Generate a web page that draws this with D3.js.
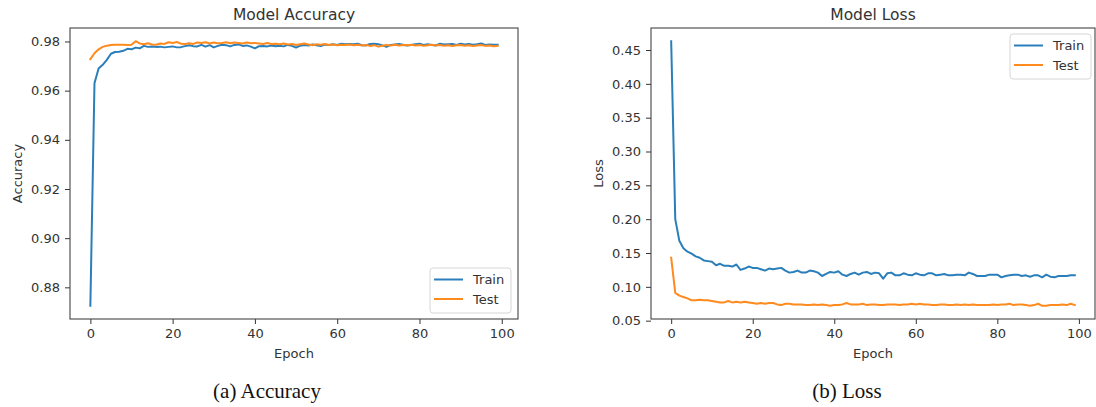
<!DOCTYPE html>
<html>
<head>
<meta charset="utf-8">
<script src="https://cdn.jsdelivr.net/npm/d3@7/dist/d3.min.js"></script>
<style>
  html, body { margin: 0; padding: 0; background: #fff; }
  svg { display: block; }
  .tick text { font-family: "DejaVu Sans", sans-serif; font-size: 13px; fill: #333; }
</style>
</head>
<body>
<svg id="chart" width="1096" height="407"></svg>
<script>
// Training history, epochs 0..99
const epochs = d3.range(100);

const accTrain = [
  0.8725, 0.9630, 0.9690, 0.9705, 0.9725, 0.9750, 0.9757, 0.9758, 0.9762, 0.9770,
  0.9768, 0.9775, 0.9772, 0.9782, 0.9778, 0.9780, 0.9778, 0.9779, 0.9776, 0.9778,
  0.9780, 0.9776, 0.9777, 0.9781, 0.9785, 0.9781, 0.9780, 0.9786, 0.9779, 0.9785,
  0.9776, 0.9782, 0.9787, 0.9785, 0.9780, 0.9786, 0.9788, 0.9782, 0.9784, 0.9779,
  0.9772, 0.9781, 0.9782, 0.9780, 0.9784, 0.9781, 0.9783, 0.9780, 0.9786, 0.9782,
  0.9775, 0.9783, 0.9786, 0.9784, 0.9788, 0.9785, 0.9781, 0.9787, 0.9786, 0.9789,
  0.9786, 0.9791, 0.9789, 0.9790, 0.9789, 0.9791, 0.9785, 0.9784, 0.9790, 0.9791,
  0.9789, 0.9784, 0.9778, 0.9786, 0.9788, 0.9790, 0.9787, 0.9784, 0.9786, 0.9789,
  0.9791, 0.9786, 0.9789, 0.9786, 0.9784, 0.9791, 0.9788, 0.9789, 0.9790, 0.9786,
  0.9791, 0.9788, 0.9790, 0.9787, 0.9789, 0.9792, 0.9786, 0.9788, 0.9787, 0.9787
];

const accTest = [
  0.9728, 0.9752, 0.9768, 0.9778, 0.9783, 0.9786, 0.9787, 0.9787, 0.9787, 0.9786,
  0.9787, 0.9801, 0.9792, 0.9789, 0.9793, 0.9788, 0.9787, 0.9792, 0.9790, 0.9797,
  0.9794, 0.9798, 0.9791, 0.9790, 0.9793, 0.9790, 0.9796, 0.9794, 0.9797, 0.9792,
  0.9796, 0.9793, 0.9794, 0.9797, 0.9793, 0.9796, 0.9794, 0.9792, 0.9796, 0.9793,
  0.9794, 0.9792, 0.9790, 0.9794, 0.9790, 0.9791, 0.9789, 0.9792, 0.9788, 0.9790,
  0.9786, 0.9789, 0.9792, 0.9788, 0.9785, 0.9789, 0.9787, 0.9790, 0.9786, 0.9788,
  0.9785, 0.9787, 0.9786, 0.9788, 0.9785, 0.9787, 0.9784, 0.9786, 0.9782, 0.9785,
  0.9779, 0.9783, 0.9786, 0.9784, 0.9787, 0.9784, 0.9786, 0.9785, 0.9787, 0.9784,
  0.9786, 0.9783, 0.9785, 0.9787, 0.9784, 0.9786, 0.9783, 0.9785, 0.9782, 0.9785,
  0.9786, 0.9783, 0.9785, 0.9782, 0.9784, 0.9786, 0.9782, 0.9784, 0.9781, 0.9782
];

const lossTrain = [
  0.463, 0.200, 0.168, 0.157, 0.152, 0.149, 0.145, 0.143, 0.139, 0.138,
  0.137, 0.132, 0.134, 0.131, 0.131, 0.130, 0.133, 0.125, 0.127, 0.130,
  0.128, 0.128, 0.126, 0.124, 0.127, 0.126, 0.127, 0.128, 0.124, 0.121,
  0.122, 0.124, 0.121, 0.121, 0.124, 0.123, 0.121, 0.116, 0.119, 0.122,
  0.121, 0.123, 0.118, 0.116, 0.119, 0.121, 0.118, 0.121, 0.122, 0.119,
  0.121, 0.120, 0.112, 0.120, 0.121, 0.117, 0.117, 0.120, 0.118, 0.117,
  0.120, 0.118, 0.117, 0.120, 0.120, 0.117, 0.118, 0.119, 0.117, 0.117,
  0.118, 0.118, 0.117, 0.121, 0.119, 0.116, 0.116, 0.116, 0.118, 0.118,
  0.118, 0.114, 0.116, 0.117, 0.118, 0.118, 0.116, 0.117, 0.115, 0.117,
  0.117, 0.114, 0.118, 0.115, 0.114, 0.116, 0.116, 0.116, 0.117, 0.117
];

const lossTest = [
  0.143, 0.091, 0.087, 0.085, 0.083, 0.080, 0.080, 0.081, 0.080, 0.080,
  0.079, 0.078, 0.077, 0.077, 0.079, 0.077, 0.078, 0.077, 0.078, 0.077,
  0.076, 0.075, 0.076, 0.075, 0.076, 0.076, 0.074, 0.073, 0.075, 0.075,
  0.074, 0.074, 0.074, 0.073, 0.073, 0.074, 0.073, 0.074, 0.073, 0.072,
  0.073, 0.073, 0.074, 0.076, 0.074, 0.074, 0.074, 0.075, 0.073, 0.074,
  0.074, 0.073, 0.073, 0.074, 0.074, 0.074, 0.073, 0.074, 0.074, 0.075,
  0.074, 0.075, 0.074, 0.074, 0.073, 0.073, 0.074, 0.074, 0.073, 0.073,
  0.074, 0.073, 0.074, 0.073, 0.074, 0.073, 0.073, 0.073, 0.073, 0.074,
  0.073, 0.074, 0.074, 0.075, 0.073, 0.074, 0.074, 0.073, 0.072, 0.073,
  0.075, 0.072, 0.072, 0.073, 0.073, 0.073, 0.074, 0.073, 0.075, 0.073
];

const xTicks = [0, 20, 40, 60, 80, 100];
const accTicks = [0.88, 0.90, 0.92, 0.94, 0.96, 0.98];
const lossTicks = [0.05, 0.10, 0.15, 0.20, 0.25, 0.30, 0.35, 0.40, 0.45];
const seriesNames = ["Train", "Test"];
const seriesColors = ["#2a7fba", "#ff8a1e"];

const svg = d3.select("#chart");

// pad a data extent by 5% on each side
function padded(values) {
  const [lo, hi] = d3.extent(values);
  const m = (hi - lo) * 0.05;
  return [lo - m, hi + m];
}

function drawPanel(opt) {
  const { left, top, width, height } = opt;
  const g = svg.append("g").attr("transform", `translate(${left},${top})`);

  const x = d3.scaleLinear().domain(padded(epochs)).range([0, width]);
  const y = d3.scaleLinear().domain(padded(opt.series.flat())).range([height, 0]);

  const line = d3.line().x((d, i) => x(epochs[i])).y(d => y(d));

  opt.series.forEach((s, k) => {
    g.append("path")
      .datum(s)
      .attr("fill", "none")
      .attr("stroke", seriesColors[k])
      .attr("stroke-width", 2)
      .attr("stroke-linejoin", "round")
      .attr("stroke-linecap", "square")
      .attr("d", line);
  });

  // axes
  const xAxis = g.append("g").attr("transform", `translate(0,${height})`)
    .call(d3.axisBottom(x).tickValues(xTicks).tickSize(5).tickPadding(5).tickFormat(d3.format("d")));
  const yAxis = g.append("g")
    .call(d3.axisLeft(y).tickValues(opt.yTicks).tickSize(5).tickPadding(5).tickFormat(d3.format(".2f")));
  [xAxis, yAxis].forEach(a => {
    a.select(".domain").remove();
    a.selectAll(".tick line").attr("stroke", "#333").attr("stroke-width", 1);
  });

  // frame
  g.append("rect")
    .attr("x", 0).attr("y", 0).attr("width", width).attr("height", height)
    .attr("fill", "none").attr("stroke", "#444").attr("stroke-width", 1.1);

  // title and labels
  g.append("text")
    .attr("x", width / 2).attr("y", -8)
    .attr("text-anchor", "middle")
    .style("font-family", "DejaVu Sans, sans-serif").style("font-size", "15.5px").style("fill", "#333")
    .text(opt.title);
  g.append("text")
    .attr("x", width / 2).attr("y", height + 39)
    .attr("text-anchor", "middle")
    .style("font-family", "DejaVu Sans, sans-serif").style("font-size", "13px").style("fill", "#333")
    .text("Epoch");
  g.append("text")
    .attr("transform", `translate(${opt.yLabelX},${height / 2}) rotate(-90)`)
    .attr("text-anchor", "middle")
    .style("font-family", "DejaVu Sans, sans-serif").style("font-size", "13px").style("fill", "#333")
    .text(opt.yLabel);

  // legend
  const lg = g.append("g").attr("transform", `translate(${opt.legend[0]},${opt.legend[1]})`);
  lg.append("rect")
    .attr("width", 81).attr("height", 45).attr("rx", 3)
    .attr("fill", "#fff").attr("fill-opacity", 0.8)
    .attr("stroke", "#d6d6d6").attr("stroke-width", 1);
  seriesNames.forEach((name, k) => {
    const cy = 11.5 + k * 19.5;
    lg.append("line")
      .attr("x1", 4).attr("x2", 33).attr("y1", cy).attr("y2", cy)
      .attr("stroke", seriesColors[k]).attr("stroke-width", 2);
    lg.append("text")
      .attr("x", 43).attr("y", cy + 4.5)
      .style("font-family", "DejaVu Sans, sans-serif").style("font-size", "13px").style("fill", "#333")
      .text(name);
  });

  // caption
  svg.append("text")
    .attr("x", opt.captionX).attr("y", 398)
    .attr("text-anchor", "middle")
    .style("font-family", "Liberation Serif, Times New Roman, serif").style("font-size", "21px").style("fill", "#111")
    .text(opt.caption);
}

drawPanel({
  left: 70, top: 28, width: 448, height: 291,
  series: [accTrain, accTest], yTicks: accTicks,
  title: "Model Accuracy", yLabel: "Accuracy", yLabelX: -48,
  legend: [360, 240], caption: "(a) Accuracy", captionX: 267
});

drawPanel({
  left: 651, top: 28, width: 444, height: 291,
  series: [lossTrain, lossTest], yTicks: lossTicks,
  title: "Model Loss", yLabel: "Loss", yLabelX: -48,
  legend: [359, 6], caption: "(b) Loss", captionX: 847
});
</script>
</body>
</html>
